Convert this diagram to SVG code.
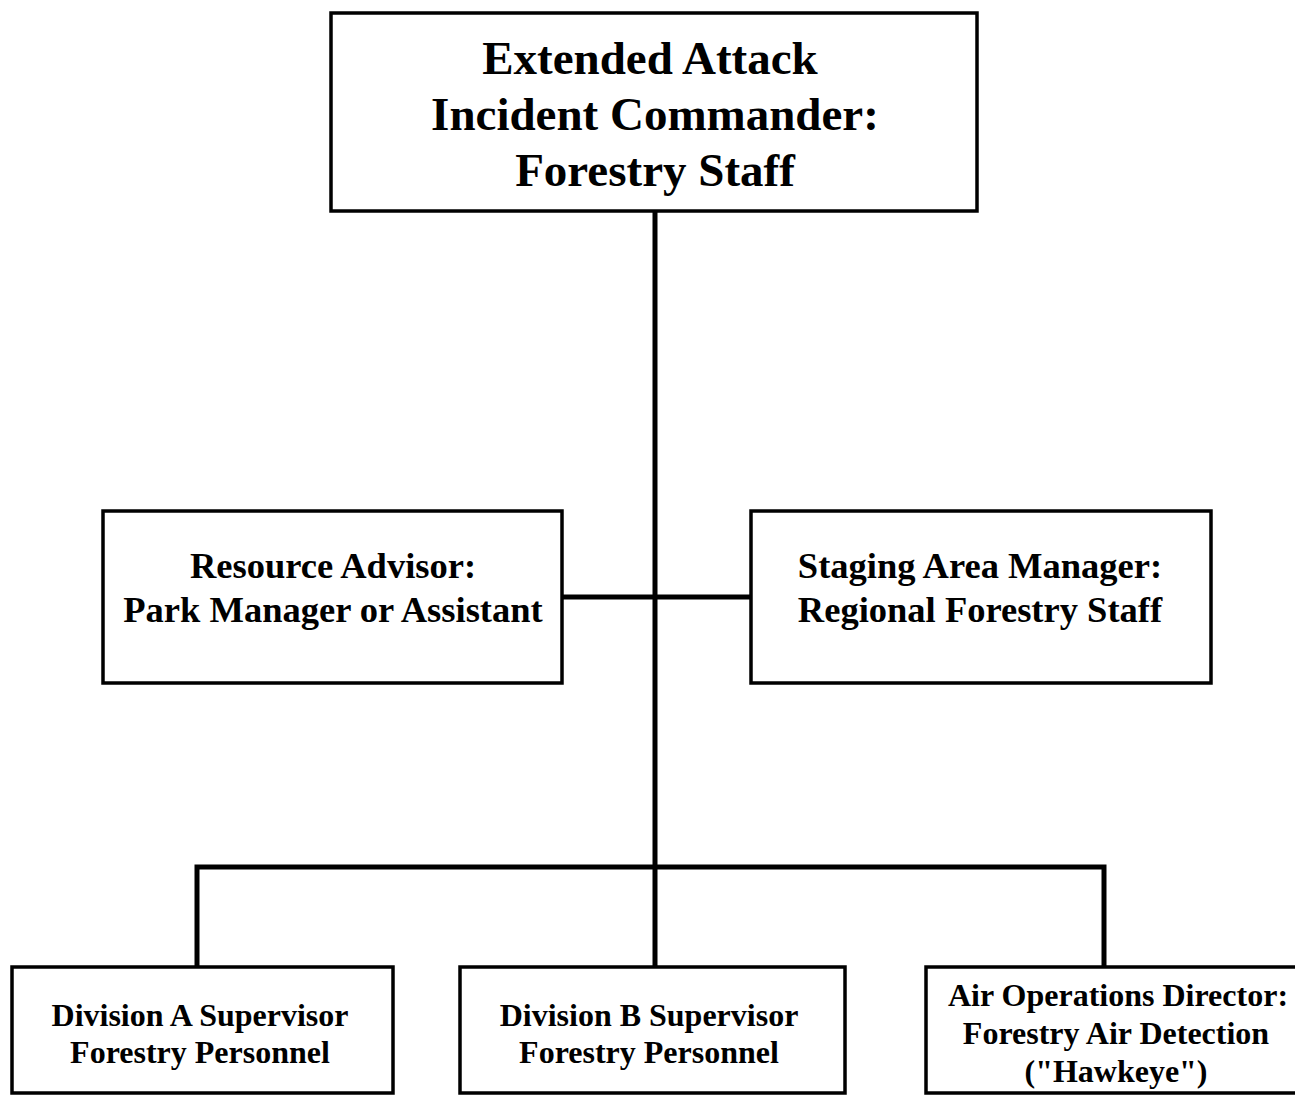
<svg xmlns="http://www.w3.org/2000/svg" width="1295" height="1095" viewBox="0 0 1295 1095">
<style>
.box{fill:#fff;stroke:#000;stroke-width:3.5}
.conn{fill:none;stroke:#000;stroke-width:5}
text{font-family:"Liberation Serif","Times New Roman",serif;font-weight:bold;fill:#000;text-anchor:middle}
.t1{font-size:47px}
.t2{font-size:36.5px}
.t3{font-size:32px}
</style>
<rect width="1295" height="1095" fill="#fff"/>
<g id="connectors">
<line class="conn" x1="655" y1="211" x2="655" y2="967"/>
<line class="conn" x1="562" y1="597" x2="751" y2="597"/>
<polyline class="conn" points="197,967 197,867 1104,867 1104,967"/>
</g>
<g id="node-commander">
<rect class="box" x="331" y="13" width="646" height="198"/>
<text class="t1" x="650" y="74">Extended Attack</text>
<text class="t1" x="655" y="130">Incident Commander:</text>
<text class="t1" x="655" y="186">Forestry Staff</text>
</g>
<g id="node-resource">
<rect class="box" x="103" y="511" width="459" height="172"/>
<text class="t2" x="333" y="578">Resource Advisor:</text>
<text class="t2" x="333" y="622">Park Manager or Assistant</text>
</g>
<g id="node-staging">
<rect class="box" x="751" y="511" width="460" height="172"/>
<text class="t2" x="980" y="578">Staging Area Manager:</text>
<text class="t2" x="980" y="622">Regional Forestry Staff</text>
</g>
<g id="node-divA">
<rect class="box" x="12" y="967" width="381" height="126"/>
<text class="t3" x="200" y="1026">Division A Supervisor</text>
<text class="t3" x="200" y="1063">Forestry Personnel</text>
</g>
<g id="node-divB">
<rect class="box" x="460" y="967" width="385" height="126"/>
<text class="t3" x="649" y="1026">Division B Supervisor</text>
<text class="t3" x="649" y="1063">Forestry Personnel</text>
</g>
<g id="node-air">
<rect class="box" x="926" y="967" width="372" height="126"/>
<text class="t3" x="1118" y="1006">Air Operations Director:</text>
<text class="t3" x="1116" y="1044">Forestry Air Detection</text>
<text class="t3" x="1116" y="1082">("Hawkeye")</text>
</g>
</svg>
